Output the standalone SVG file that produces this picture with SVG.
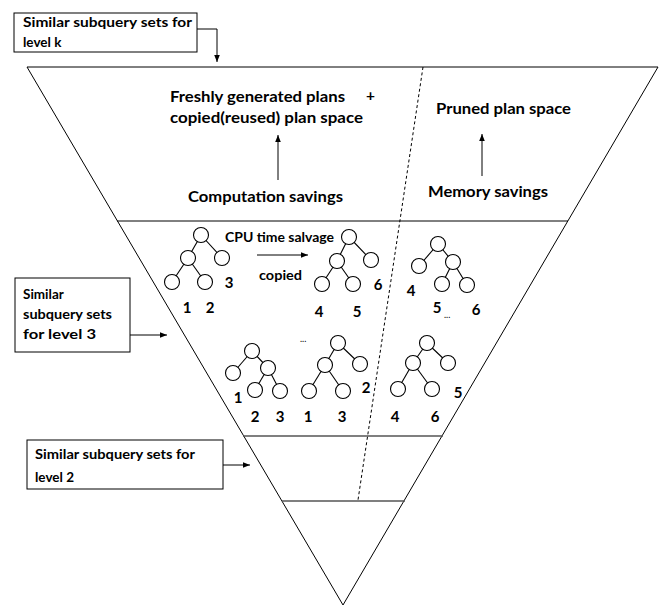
<svg xmlns="http://www.w3.org/2000/svg" width="664" height="607" viewBox="0 0 664 607">
<style>
.t{font-family:Lato,"Liberation Sans",sans-serif;font-weight:bold;fill:#000}
.big{font-size:15.5px}
.mid{font-size:13.5px}
.box{font-size:13.5px}
.dig{font-size:15px;text-anchor:middle}
.ln{stroke:#000;stroke-width:1;fill:none}
.gl{stroke:#555;stroke-width:1.3;fill:none}
.bx{fill:#fff;stroke:#000;stroke-width:1}
.nd{fill:#fff;stroke:#000;stroke-width:1.1}
.ed{stroke:#000;stroke-width:1.1}
</style>
<defs>
<marker id="ah" viewBox="0 0 10 10" refX="10" refY="5" markerWidth="7" markerHeight="7" markerUnits="userSpaceOnUse" orient="auto">
<path d="M0,1 L10,5 L0,9 z" fill="#000"/>
</marker>
</defs>
<rect width="664" height="607" fill="#fff"/>

<g id="funnel">
<polygon points="27,67 658,67 343,605" class="ln"/>
<line x1="117" y1="221" x2="568" y2="221" class="ln"/>
<line x1="243" y1="436" x2="443" y2="436" class="gl"/>
<line x1="282" y1="501" x2="405" y2="501" class="gl"/>
<line x1="423" y1="67" x2="358" y2="500" class="ln" stroke-dasharray="3,2.5"/>
</g>

<g id="connectors">
<polyline points="197,29 217,29 217,62" class="ln" marker-end="url(#ah)"/>
<line x1="130" y1="335" x2="167" y2="335" class="ln" marker-end="url(#ah)"/>
<line x1="223" y1="465" x2="250" y2="465" class="ln" marker-end="url(#ah)"/>
<line x1="278" y1="180" x2="278" y2="135" class="ln" marker-end="url(#ah)"/>
<line x1="482" y1="176" x2="482" y2="134" class="ln" marker-end="url(#ah)"/>
<line x1="257" y1="255" x2="308" y2="255" class="ln" marker-end="url(#ah)"/>
</g>

<g id="box-level-k">
<rect x="14" y="13" width="183" height="39" class="bx"/>
<text class="t box" x="23" y="27" textLength="169" lengthAdjust="spacingAndGlyphs">Similar subquery sets for</text>
<text class="t box" x="23" y="47">level k</text>
</g>

<g id="box-level-3">
<rect x="15" y="278" width="115" height="74" class="bx"/>
<text class="t box" x="23" y="299">Similar</text>
<text class="t box" x="23" y="319" textLength="89" lengthAdjust="spacingAndGlyphs">subquery sets</text>
<text class="t box" x="23" y="339" textLength="73" lengthAdjust="spacingAndGlyphs">for level 3</text>
</g>

<g id="box-level-2">
<rect x="27" y="440" width="196" height="49" class="bx"/>
<text class="t box" x="35" y="459" textLength="160" lengthAdjust="spacingAndGlyphs">Similar subquery sets for</text>
<text class="t box" x="35" y="482">level 2</text>
</g>

<g id="labels-top">
<text class="t big" x="170" y="102" textLength="175" lengthAdjust="spacingAndGlyphs">Freshly generated plans</text>
<text class="t big" x="366" y="101">+</text>
<text class="t big" x="170" y="123" textLength="193" lengthAdjust="spacingAndGlyphs">copied(reused) plan space</text>
<text class="t big" x="188" y="202" textLength="155" lengthAdjust="spacingAndGlyphs">Computation savings</text>
<text class="t big" x="436" y="114" textLength="135" lengthAdjust="spacingAndGlyphs">Pruned plan space</text>
<text class="t big" x="428" y="197" textLength="120" lengthAdjust="spacingAndGlyphs">Memory savings</text>
<text class="t mid" x="225" y="242" textLength="109" lengthAdjust="spacingAndGlyphs">CPU time salvage</text>
<text class="t mid" x="259" y="280" textLength="43" lengthAdjust="spacingAndGlyphs">copied</text>
</g>

<g id="tree1">
<line x1="201" y1="235" x2="188" y2="258" class="ed"/><line x1="201" y1="235" x2="222" y2="258" class="ed"/>
<line x1="188" y1="258" x2="172" y2="282" class="ed"/><line x1="188" y1="258" x2="205" y2="282" class="ed"/>
<circle cx="201" cy="235" r="7.5" class="nd"/><circle cx="188" cy="258" r="7.5" class="nd"/><circle cx="222" cy="258" r="7.5" class="nd"/>
<circle cx="172" cy="282" r="7.5" class="nd"/><circle cx="205" cy="282" r="7.5" class="nd"/>
<text class="t dig" x="229" y="288">3</text><text class="t dig" x="187" y="313">1</text><text class="t dig" x="210" y="313">2</text>
</g>

<g id="tree2">
<line x1="349" y1="237" x2="337" y2="261" class="ed"/><line x1="349" y1="237" x2="371" y2="260" class="ed"/>
<line x1="337" y1="261" x2="322" y2="284" class="ed"/><line x1="337" y1="261" x2="353" y2="284" class="ed"/>
<circle cx="349" cy="237" r="7.5" class="nd"/><circle cx="337" cy="261" r="7.5" class="nd"/><circle cx="371" cy="260" r="7.5" class="nd"/>
<circle cx="322" cy="284" r="7.5" class="nd"/><circle cx="353" cy="284" r="7.5" class="nd"/>
<text class="t dig" x="378" y="290">6</text><text class="t dig" x="319" y="317">4</text><text class="t dig" x="357" y="317">5</text>
</g>

<g id="tree3">
<line x1="438" y1="244" x2="419" y2="266" class="ed"/><line x1="438" y1="244" x2="453" y2="262" class="ed"/>
<line x1="453" y1="262" x2="442" y2="284" class="ed"/><line x1="453" y1="262" x2="467" y2="285" class="ed"/>
<circle cx="438" cy="244" r="7.5" class="nd"/><circle cx="419" cy="266" r="7.5" class="nd"/><circle cx="453" cy="262" r="7.5" class="nd"/>
<circle cx="442" cy="284" r="7.5" class="nd"/><circle cx="467" cy="285" r="7.5" class="nd"/>
<text class="t dig" x="411" y="296">4</text><text class="t dig" x="437" y="313">5</text><text class="t dig" x="476" y="315">6</text>
<text class="t" x="444" y="318" style="font-size:9px;font-weight:normal">...</text>
</g>

<g id="tree4">
<line x1="252" y1="351" x2="233" y2="373" class="ed"/><line x1="252" y1="351" x2="268" y2="368" class="ed"/>
<line x1="268" y1="368" x2="255" y2="390" class="ed"/><line x1="268" y1="368" x2="280" y2="391" class="ed"/>
<circle cx="252" cy="351" r="7.5" class="nd"/><circle cx="233" cy="373" r="7.5" class="nd"/><circle cx="268" cy="368" r="7.5" class="nd"/>
<circle cx="255" cy="390" r="7.5" class="nd"/><circle cx="280" cy="391" r="7.5" class="nd"/>
<text class="t dig" x="238" y="403">1</text><text class="t dig" x="255" y="422">2</text><text class="t dig" x="280" y="422">3</text>
<text class="t" x="300" y="342" style="font-size:9px;font-weight:normal">...</text>
</g>

<g id="tree5">
<line x1="338" y1="343" x2="325" y2="365" class="ed"/><line x1="338" y1="343" x2="360" y2="364" class="ed"/>
<line x1="325" y1="365" x2="309" y2="391" class="ed"/><line x1="325" y1="365" x2="343" y2="391" class="ed"/>
<circle cx="338" cy="343" r="7.5" class="nd"/><circle cx="325" cy="365" r="7.5" class="nd"/><circle cx="360" cy="364" r="7.5" class="nd"/>
<circle cx="309" cy="391" r="7.5" class="nd"/><circle cx="343" cy="391" r="7.5" class="nd"/>
<text class="t dig" x="366" y="393">2</text><text class="t dig" x="308" y="422">1</text><text class="t dig" x="342" y="422">3</text>
</g>

<g id="tree6">
<line x1="427" y1="343" x2="413" y2="363" class="ed"/><line x1="427" y1="343" x2="448" y2="363" class="ed"/>
<line x1="413" y1="363" x2="398" y2="389" class="ed"/><line x1="413" y1="363" x2="432" y2="389" class="ed"/>
<circle cx="427" cy="343" r="7.5" class="nd"/><circle cx="413" cy="363" r="7.5" class="nd"/><circle cx="448" cy="363" r="7.5" class="nd"/>
<circle cx="398" cy="389" r="7.5" class="nd"/><circle cx="432" cy="389" r="7.5" class="nd"/>
<text class="t dig" x="458" y="398">5</text><text class="t dig" x="395" y="422">4</text><text class="t dig" x="435" y="422">6</text>
</g>
</svg>
